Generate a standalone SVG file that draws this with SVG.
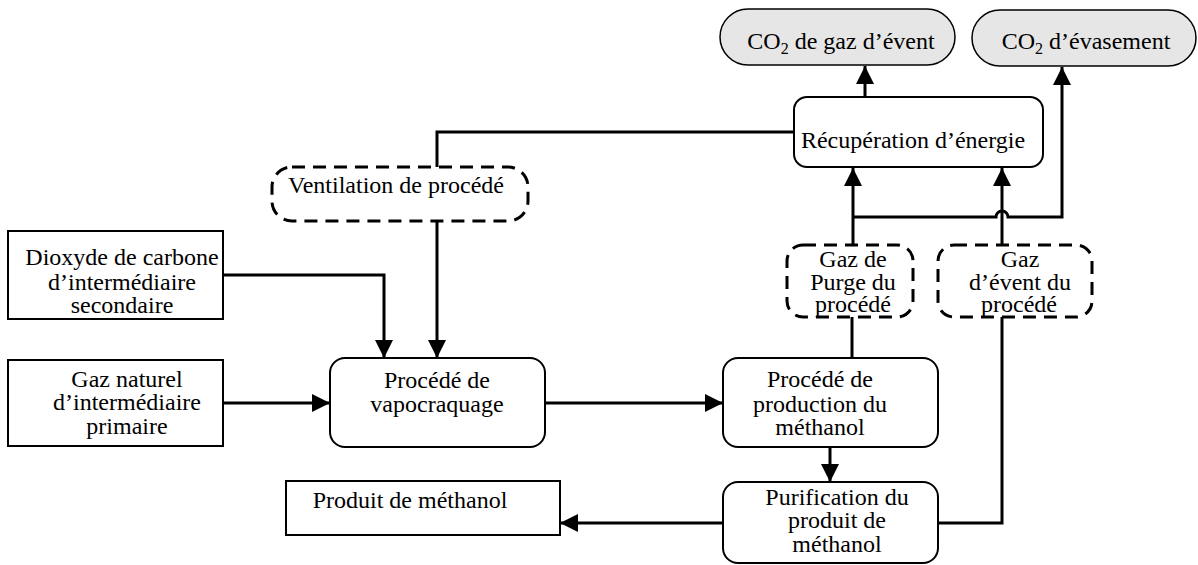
<svg xmlns="http://www.w3.org/2000/svg" width="1198" height="565" viewBox="0 0 1198 565">
<style>
text{font-family:"Liberation Serif","DejaVu Serif",serif;font-size:24px;fill:#000;text-anchor:middle}
.box{fill:#fff;stroke:#000;stroke-width:2}
.dash{fill:#fff;stroke:#000;stroke-width:3;stroke-dasharray:13 8}
.term{fill:#e6e6e6;stroke:#000;stroke-width:1.5}
.c{fill:none;stroke:#000;stroke-width:3}
</style>
<defs>
<marker id="ah" markerUnits="userSpaceOnUse" markerWidth="18" markerHeight="18" refX="18" refY="9" orient="auto">
<path d="M0,0 L18,9 L0,18 z" fill="#000"/>
</marker>
</defs>
<rect width="1198" height="565" fill="#fff"/>
<g id="connectors">
<path class="c" d="M865,97 V66" marker-end="url(#ah)"/>
<path class="c" d="M853,217 H996 a6,6 0 0 1 12,0 H1062 V67" marker-end="url(#ah)"/>
<path class="c" d="M853,245 V168" marker-end="url(#ah)"/>
<path class="c" d="M1002,245 V168" marker-end="url(#ah)"/>
<path class="c" d="M794,132 H437 V167"/>
<path class="c" d="M437,221 V358" marker-end="url(#ah)"/>
<path class="c" d="M223,275 H384 V358" marker-end="url(#ah)"/>
<path class="c" d="M223,403 H330" marker-end="url(#ah)"/>
<path class="c" d="M545,403 H723" marker-end="url(#ah)"/>
<path class="c" d="M852,358 V317"/>
<path class="c" d="M830,447 V482" marker-end="url(#ah)"/>
<path class="c" d="M1002,317 V523 H938"/>
<path class="c" d="M723,523 H560" marker-end="url(#ah)"/>
</g>
<g id="co2-gaz-event">
<rect class="term" x="720" y="9" width="235" height="56" rx="28"/>
<text x="841" y="49">CO<tspan font-size="16" dy="5">2</tspan><tspan dy="-5"> de gaz d’évent</tspan></text>
</g>
<g id="co2-evasement">
<rect class="term" x="972" y="10" width="224" height="56" rx="28"/>
<text x="1086" y="49">CO<tspan font-size="16" dy="5">2</tspan><tspan dy="-5"> d’évasement</tspan></text>
</g>
<g id="recuperation">
<rect class="box" x="794" y="97" width="249" height="70" rx="13"/>
<text x="913" y="148">Récupération d’énergie</text>
</g>
<g id="ventilation">
<rect class="dash" x="272" y="167" width="256" height="54" rx="20"/>
<text x="396" y="193">Ventilation de procédé</text>
</g>
<g id="gaz-purge">
<rect class="dash" x="787" y="245" width="126" height="72" rx="16"/>
<text x="853" y="267">Gaz de</text>
<text x="853" y="290">Purge du</text>
<text x="853" y="312">procédé</text>
</g>
<g id="gaz-event">
<rect class="dash" x="938" y="245" width="154" height="72" rx="16"/>
<text x="1020" y="267">Gaz</text>
<text x="1020" y="290">d’évent du</text>
<text x="1019" y="312">procédé</text>
</g>
<g id="dioxyde">
<rect class="box" x="8" y="231" width="215" height="88"/>
<text x="122" y="265">Dioxyde de carbone</text>
<text x="122" y="290">d’intermédiaire</text>
<text x="122" y="313">secondaire</text>
</g>
<g id="gaz-naturel">
<rect class="box" x="8" y="360" width="215" height="86"/>
<text x="127" y="387">Gaz naturel</text>
<text x="127" y="410">d’intermédiaire</text>
<text x="127" y="434">primaire</text>
</g>
<g id="vapocraquage">
<rect class="box" x="330" y="358" width="215" height="89" rx="15"/>
<text x="437" y="388">Procédé de</text>
<text x="437" y="412">vapocraquage</text>
</g>
<g id="production">
<rect class="box" x="723" y="358" width="215" height="89" rx="15"/>
<text x="820" y="387">Procédé de</text>
<text x="820" y="412">production du</text>
<text x="820" y="435">méthanol</text>
</g>
<g id="purification">
<rect class="box" x="723" y="482" width="215" height="81" rx="15"/>
<text x="837" y="505">Purification du</text>
<text x="837" y="528">produit de</text>
<text x="837" y="552">méthanol</text>
</g>
<g id="produit">
<rect class="box" x="286" y="481" width="274" height="54"/>
<text x="410" y="508">Produit de méthanol</text>
</g>
</svg>
